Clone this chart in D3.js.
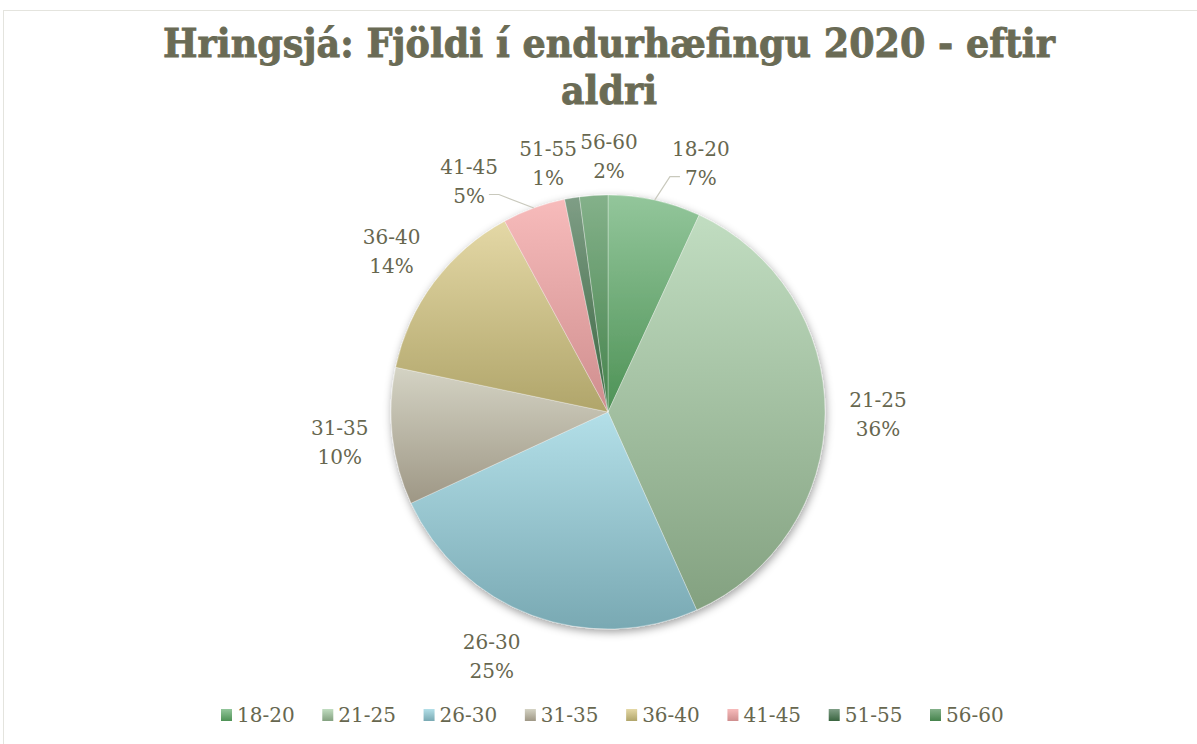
<!DOCTYPE html>
<html>
<head>
<meta charset="utf-8">
<script src="https://cdn.jsdelivr.net/npm/d3@7"></script>
<style>
  html, body { margin: 0; padding: 0; background: #fff; }
  svg { display: block; }
</style>
</head>
<body>
<svg id="chart" width="1197" height="744"></svg>
<script>
// ---- data ----
const categories = ["18-20", "21-25", "26-30", "31-35", "36-40", "41-45", "51-55", "56-60"];
const values = [6.9, 36.4, 24.8, 10.2, 13.8, 4.7, 1.1, 2.1];
const colorsTop = ["#93c69b", "#c1ddc1", "#b3dfe8", "#d4d3c4", "#e4d8a6", "#f7bbbb", "#7f9e86", "#84b18a"];
const colorsBottom = ["#4e9256", "#83a180", "#79a9b3", "#9e9785", "#b0a56a", "#cf8e8e", "#3a6540", "#45834c"];
const titleLines = ["Hringsjá: Fjöldi í endurhæfingu 2020 - eftir", "aldri"];

// ---- layout ----
const W = 1197, H = 744;
const cx = 608, cy = 412, R = 217;
const labelR = 270;
const labelAngleShift = { "18-20": 8, "56-60": 4, "51-55": -4, "41-45": -11, "26-30": 5 }; // degrees
const labelRadiusAdj = { "56-60": -14, "51-55": -14, "18-20": -4 };
const leaders = { "18-20": 1, "41-45": -1 };
const textColor = "#67674f";
const fontFam = "'DejaVu Serif', serif";

const svg = d3.select("#chart");
const defs = svg.append("defs");

// chart border
svg.append("rect").attr("x", 3.5).attr("y", 10.5).attr("width", W).attr("height", H)
  .attr("fill", "none").attr("stroke", "#e4e4de").attr("stroke-width", 1);

// gradients
categories.forEach((c, i) => {
  const g = defs.append("linearGradient").attr("id", "g" + i)
    .attr("x1", 0).attr("y1", 0).attr("x2", 0).attr("y2", 1);
  g.append("stop").attr("offset", "0%").attr("stop-color", colorsTop[i]);
  g.append("stop").attr("offset", "100%").attr("stop-color", colorsBottom[i]);
});
const f = defs.append("filter").attr("id", "shadow").attr("x", "-20%").attr("y", "-20%").attr("width", "140%").attr("height", "140%");
f.append("feDropShadow").attr("dx", 1).attr("dy", 3).attr("stdDeviation", 4)
  .attr("flood-color", "#000").attr("flood-opacity", 0.38);

// title
const tg = svg.append("g").attr("font-family", fontFam).attr("font-weight", "bold")
  .attr("font-size", 40).attr("fill", "#6a6b55").attr("stroke", "#6a6b55").attr("stroke-width", 0.9)
  .attr("text-anchor", "middle");
const t1 = tg.append("text").attr("x", 0).attr("y", 57).text(titleLines[0]);
tg.append("text").attr("x", 0).attr("y", 104).text(titleLines[1]);
const tw = t1.node().getComputedTextLength();
tg.attr("transform", `translate(609,0) scale(${892 / tw},1)`);

// pie
const pie = d3.pie().value(d => d.v).sort(null);
const data = categories.map((c, i) => ({ c, v: values[i], i }));
const arcs = pie(data);
const arc = d3.arc().innerRadius(0).outerRadius(R);
const total = d3.sum(values);

const pg = svg.append("g").attr("transform", `translate(${cx},${cy})`);
const sg = pg.append("g").attr("filter", "url(#shadow)");
sg.selectAll("path").data(arcs).join("path")
  .attr("d", arc)
  .attr("fill", d => `url(#g${d.data.i})`)
  .attr("stroke", "rgba(255,255,255,0.45)")
  .attr("stroke-width", 0.7);

// labels
const lg = pg.append("g").attr("font-family", fontFam).attr("font-size", 20)
  .attr("fill", textColor).attr("text-anchor", "middle");
arcs.forEach(d => {
  const c = d.data.c;
  const mid = (d.startAngle + d.endAngle) / 2 + (labelAngleShift[c] || 0) * Math.PI / 180;
  const r = labelR + (labelRadiusAdj[c] || 0);
  const x = Math.sin(mid) * r, y = -Math.cos(mid) * r;
  lg.append("text").attr("x", x).attr("y", y - 7).text(c);
  const p = lg.append("text").attr("x", x).attr("y", y + 22)
    .text(Math.round(d.data.v / total * 100) + "%");
  if (leaders[c]) {
    const dir = leaders[c];
    const m0 = (d.startAngle + d.endAngle) / 2;
    const sx = Math.sin(m0) * R, sy = -Math.cos(m0) * R;
    const bb = p.node().getBBox();
    const ey = y + 14;
    const ex = dir > 0 ? bb.x - 5 : bb.x + bb.width + 4;
    const elx = ex + dir * -10;
    pg.append("polyline")
      .attr("points", `${sx},${sy} ${elx},${ey} ${ex},${ey}`)
      .attr("fill", "none").attr("stroke", "#c9c9bd").attr("stroke-width", 1.2);
  }
});

// legend
const leg = svg.append("g").attr("font-family", fontFam).attr("font-size", 20).attr("fill", textColor);
const legX = d3.scalePoint().domain(categories).range([221, 930]);
categories.forEach((c, i) => {
  const gx = legX(c);
  leg.append("rect").attr("x", gx).attr("y", 709).attr("width", 11).attr("height", 12)
    .attr("fill", `url(#g${i})`);
  leg.append("text").attr("x", gx + 16).attr("y", 722).text(c);
});
</script>
</body>
</html>
